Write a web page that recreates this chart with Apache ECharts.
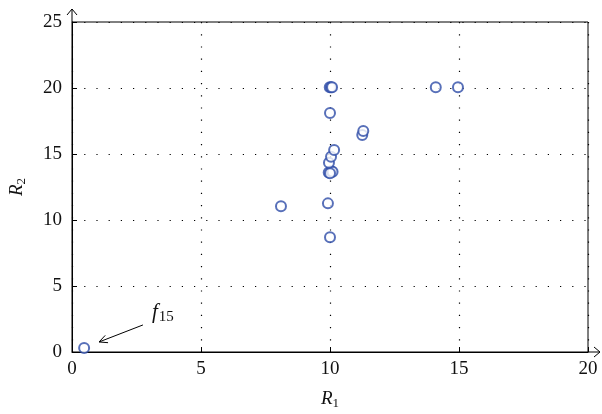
<!DOCTYPE html>
<html>
<head>
<meta charset="utf-8">
<script src="https://cdn.jsdelivr.net/npm/echarts@6/dist/echarts.min.js"></script>
<style>
  html, body { margin: 0; padding: 0; background: #fff; }
  #main { width: 602px; height: 414px; }
</style>
</head>
<body>
<div id="main"></div>
<script>
// R1 / R2 值
var r1Values = [0.47, 8.1, 9.92, 10.0, 9.95, 10.05, 10.1, 10.0, 9.96, 10.04, 10.16, 10.0, 11.25, 11.29, 9.99, 10.04, 10.08, 14.1, 14.96];
var r2Values = [0.3, 11.05, 11.26, 8.69, 13.6, 13.7, 13.65, 13.55, 14.34, 14.8, 15.3, 18.1, 16.44, 16.74, 20.05, 20.05, 20.05, 20.05, 20.05];
var xTicks = [0, 5, 10, 15, 20];
var yTicks = [0, 5, 10, 15, 20, 25];
// 注释箭头 f15（数据坐标）
var noteFrom = [2.75, 2.05];
var noteTo = [1.05, 0.76];

var fontFam = '"Liberation Serif", "DejaVu Serif", serif';
var pts = [];
for (var i = 0; i < r1Values.length; i++) {
  pts.push([r1Values[i], r2Values[i]]);
}

var myChart = echarts.init(document.getElementById('main'));
var dotted = { color: '#000', width: 1.2, type: [1.2, 11] };
var nameRich = {
  i: { fontFamily: fontFam, fontStyle: 'italic', fontSize: 19, color: '#111' },
  s: { fontFamily: fontFam, fontSize: 13, color: '#111', verticalAlign: 'bottom', padding: [9, 0, 0, 0] }
};

myChart.setOption({
  animation: false,
  grid: { left: 72, right: 14, top: 22, bottom: 62, show: true, borderColor: '#000', borderWidth: 1, outerBoundsMode: 'none', containLabel: false },
  xAxis: {
    type: 'value', min: xTicks[0], max: xTicks[xTicks.length - 1], interval: 5,
    name: '{i|R}{s|1}', nameLocation: 'middle', nameGap: 36,
    nameTextStyle: { rich: nameRich },
    axisLine: { lineStyle: { color: '#000', width: 1 } },
    axisTick: { inside: true, length: 5, lineStyle: { color: '#000' } },
    axisLabel: { fontFamily: fontFam, fontSize: 19, color: '#111', margin: 8 },
    splitLine: { show: true, lineStyle: dotted }
  },
  yAxis: {
    type: 'value', min: yTicks[0], max: yTicks[yTicks.length - 1], interval: 5,
    name: '{i|R}{s|2}', nameLocation: 'middle', nameGap: 44, nameRotate: 90,
    nameTextStyle: { rich: nameRich },
    axisLine: { lineStyle: { color: '#000', width: 1 } },
    axisTick: { inside: true, length: 5, lineStyle: { color: '#000' } },
    axisLabel: { fontFamily: fontFam, fontSize: 19, color: '#111', margin: 10 },
    splitLine: { show: true, lineStyle: dotted }
  },
  series: [{
    type: 'scatter',
    data: pts,
    symbol: 'emptyCircle',
    symbolSize: 10,
    itemStyle: { color: '#2E4CA8', borderWidth: 1.1 }
  }]
});

// 轴端箭头 + 注释
function drawExtras() {
  var xEnd = myChart.convertToPixel('grid', [20, 0]);
  var yEnd = myChart.convertToPixel('grid', [0, 25]);
  var a = myChart.convertToPixel('grid', noteFrom);
  var b = myChart.convertToPixel('grid', noteTo);
  var ang = Math.atan2(a[1] - b[1], a[0] - b[0]);
  var hl = 9, hw = 0.45;
  var p1 = [b[0] + hl * Math.cos(ang + hw), b[1] + hl * Math.sin(ang + hw)];
  var p2 = [b[0] + hl * Math.cos(ang - hw), b[1] + hl * Math.sin(ang - hw)];
  var ls = { stroke: '#000', lineWidth: 1, fill: null };
  myChart.setOption({
    graphic: [
      { type: 'line', shape: { x1: yEnd[0], y1: yEnd[1], x2: yEnd[0], y2: yEnd[1] - 13 }, style: ls },
      { type: 'polyline', shape: { points: [[yEnd[0] - 5, yEnd[1] - 7], [yEnd[0], yEnd[1] - 13], [yEnd[0] + 5, yEnd[1] - 7]] }, style: ls },
      { type: 'line', shape: { x1: xEnd[0], y1: xEnd[1], x2: xEnd[0] + 12, y2: xEnd[1] }, style: ls },
      { type: 'polyline', shape: { points: [[xEnd[0] + 6, xEnd[1] - 5], [xEnd[0] + 12, xEnd[1]], [xEnd[0] + 6, xEnd[1] + 5]] }, style: ls },
      { type: 'line', shape: { x1: a[0], y1: a[1], x2: b[0], y2: b[1] }, style: ls },
      { type: 'polyline', shape: { points: [p1, b, p2] }, style: ls },
      {
        type: 'text', x: a[0] + 9, y: a[1] - 24,
        style: {
          text: '{i|f}{s|15}',
          rich: {
            i: { fontFamily: fontFam, fontStyle: 'italic', fontSize: 21, fill: '#111' },
            s: { fontFamily: fontFam, fontSize: 15, fill: '#111', padding: [9, 0, 0, 1] }
          }
        }
      }
    ]
  });
}
drawExtras();
</script>
</body>
</html>
